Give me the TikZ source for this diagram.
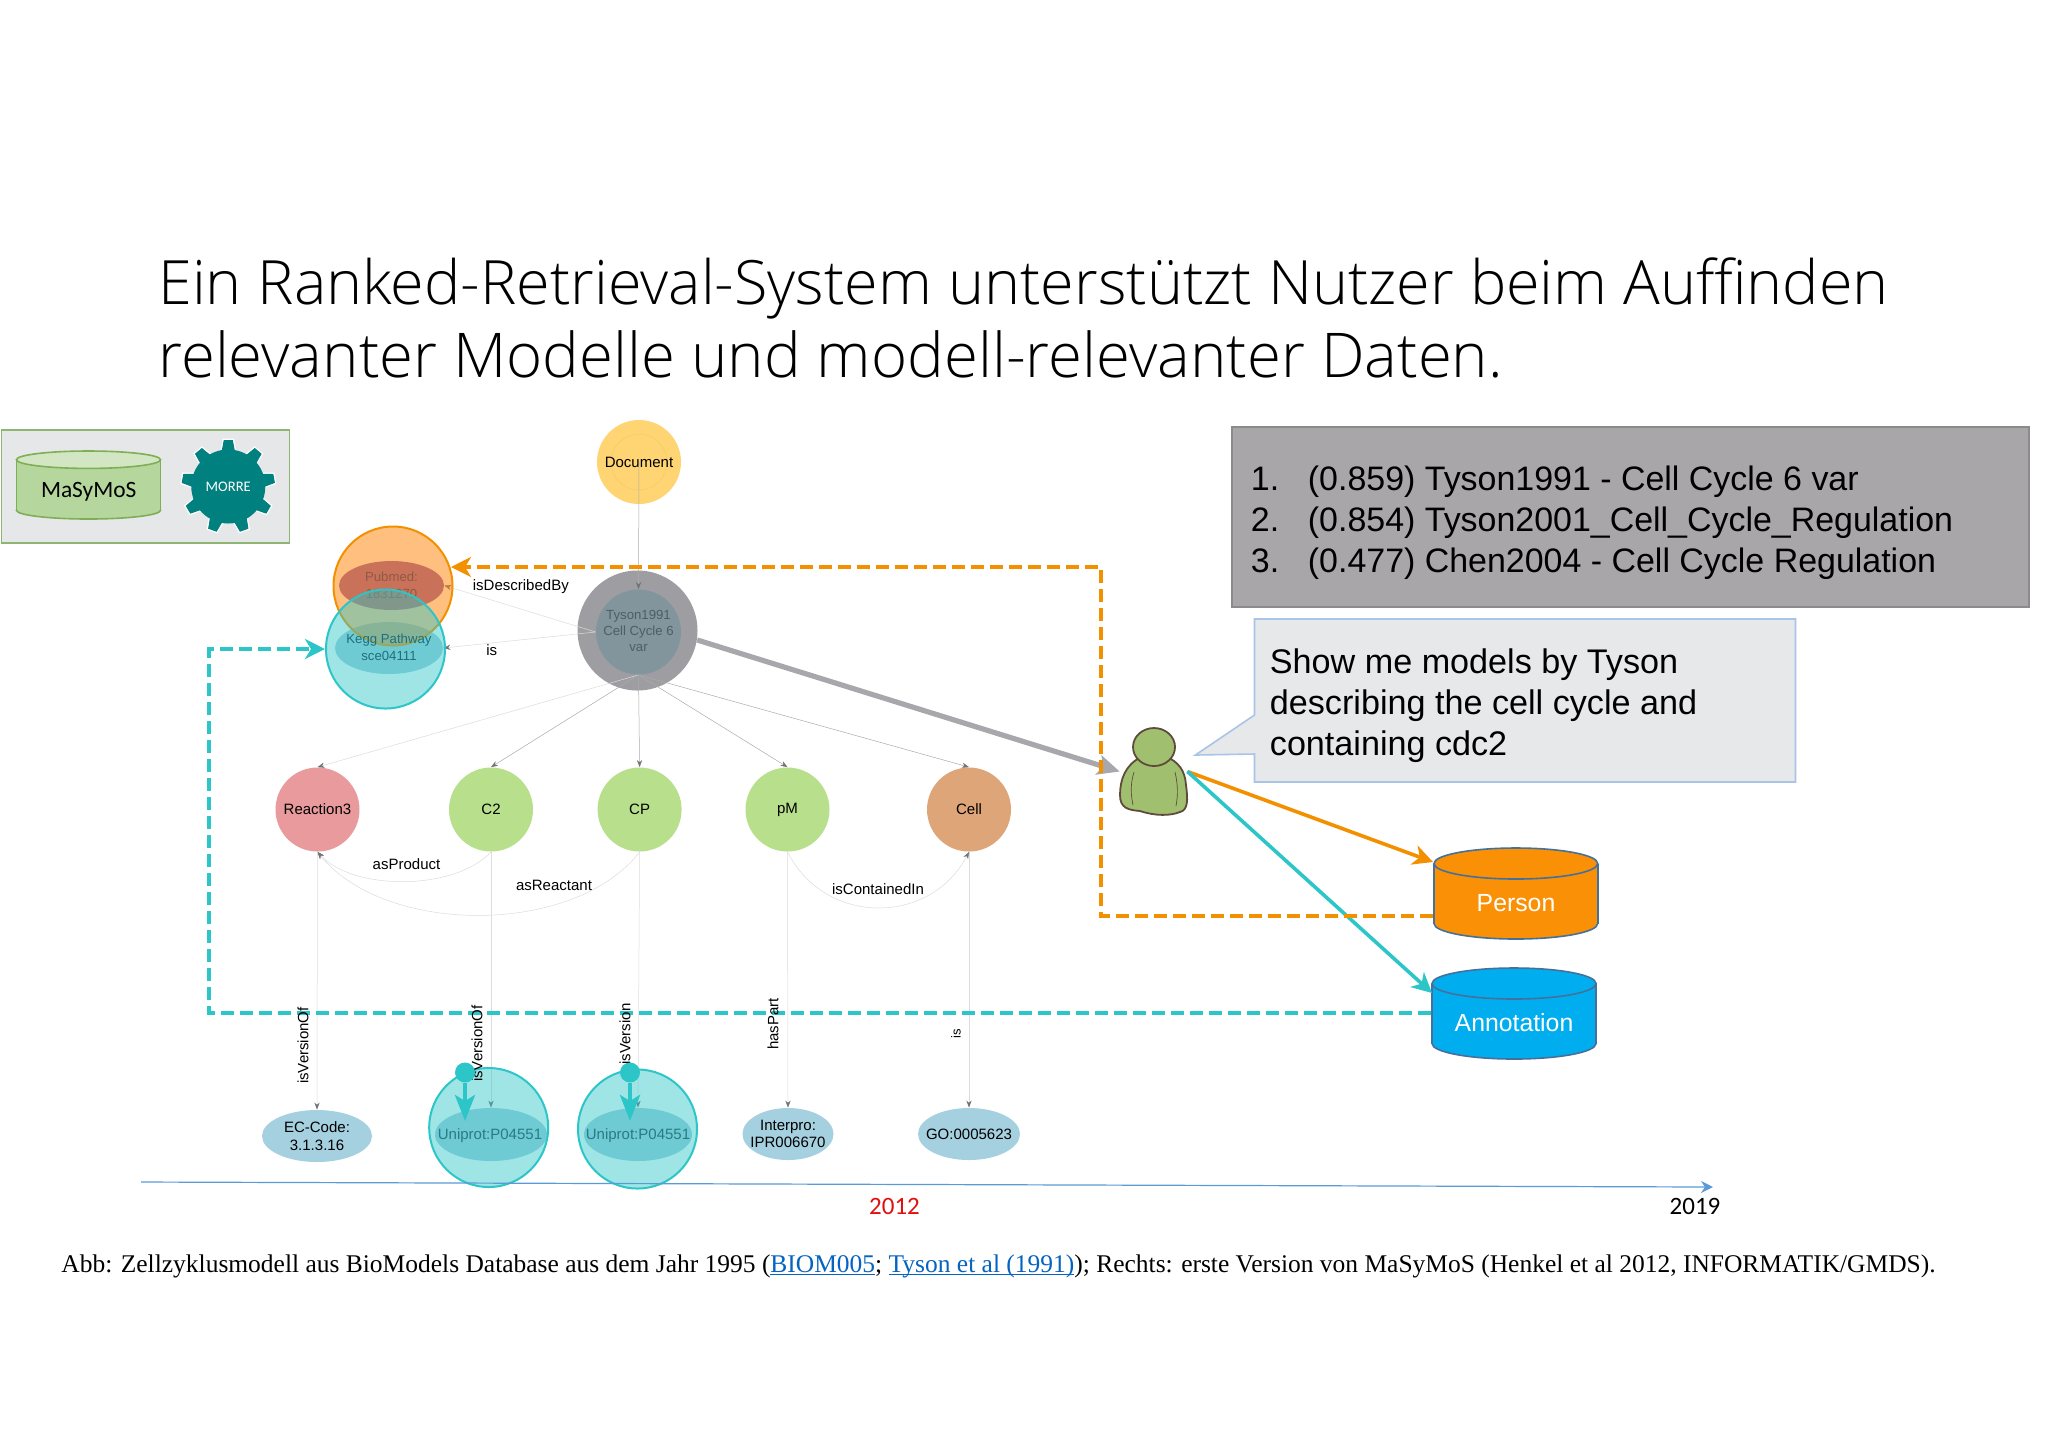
\documentclass[tikz,border=0pt]{standalone}
\usepackage{fontspec}
\setmainfont{Liberation Sans}
\newfontfamily\serfont{Liberation Serif}
\newfontfamily\carl{Carlito}
\newfontfamily\ttlfont{Open Sans}[UprightFont=* Light]
\usetikzlibrary{shapes.geometric,arrows.meta}
\definecolor{orangeL}{HTML}{F39000}
\definecolor{tealL}{HTML}{2DC6C8}
\definecolor{cylLine}{HTML}{44719B}
\definecolor{greyE}{HTML}{ABABAF}
\definecolor{lightE}{HTML}{DCDCDC}
\definecolor{annoBase}{HTML}{A5D0DF}
\definecolor{gearC}{HTML}{00807F}
\definecolor{pubBase}{RGB}{147,101,180}
\definecolor{userF}{RGB}{160,192,112}
\definecolor{userL}{RGB}{94,75,60}
\definecolor{reactF}{RGB}{232,154,156}
\definecolor{greenF}{RGB}{184,223,140}
\definecolor{cellF}{RGB}{222,165,120}
\definecolor{docF}{HTML}{FFD574}
\definecolor{docR}{HTML}{F5C860}
\definecolor{tysonO}{HTML}{9E9EA2}
\definecolor{tysonI}{HTML}{82949C}
\definecolor{tysonT}{HTML}{4D5E64}
\definecolor{pubT}{HTML}{8F5A45}
\definecolor{keggT}{HTML}{1F6F7C}
\definecolor{uniT}{HTML}{2A7A85}
\definecolor{legF}{HTML}{E6E7E8}
\definecolor{legL}{HTML}{8FB573}
\definecolor{masF}{HTML}{B5D79E}
\definecolor{masT}{HTML}{D2E6C4}
\definecolor{masL}{HTML}{7FAF55}
\definecolor{persF}{HTML}{FA9005}
\definecolor{annoF}{HTML}{00AEEF}
\definecolor{resF}{HTML}{A8A6A8}
\definecolor{resL}{HTML}{8C8B8C}
\definecolor{bubF}{HTML}{E7E8E9}
\definecolor{bubL}{HTML}{A9C4E6}
\definecolor{axisC}{HTML}{5B9BD5}
\definecolor{linkC}{HTML}{0563C1}
\definecolor{redY}{HTML}{E01010}
\definecolor{grayA}{HTML}{A8A8AC}
\newcommand{\fsz}[1]{\fontsize{#1}{#1}\selectfont}
\newcommand{\dbcyl}[8]{%
  % x0 x1 ytop ybot ry fill line topfill
  \pgfmathsetmacro{\cylxm}{(#1+#2)/2}%
  \pgfmathsetmacro{\cylrx}{(#2-#1)/4}%
  \pgfmathsetmacro{\cylry}{#5/2}%
  \pgfmathsetmacro{\cylty}{#3+#5}%
  \pgfmathsetmacro{\cylby}{#4-#5}%
  \draw[fill=#6,draw=#7,line width=.8pt] (\cylxm,\cylby) ellipse[x radius=\cylrx pt,y radius=\cylry pt];%
  \fill[#6] (#1,\cylty) rectangle (#2,\cylby);%
  \draw[#7,line width=.8pt] (#1,\cylty) -- (#1,\cylby) (#2,\cylty) -- (#2,\cylby);%
  \draw[fill=#8,draw=#7,line width=.8pt] (\cylxm,\cylty) ellipse[x radius=\cylrx pt,y radius=\cylry pt];%
}
\tikzset{
  x=.5pt,y=-.5pt,
  oval/.style 2 args={ellipse,inner sep=0pt,minimum width=#1pt,minimum height=#2pt,align=center},
  round/.style={circle,inner sep=0pt,minimum size=42pt},
  lab/.style={font=\fsz{7.5},text=black,inner sep=0pt,align=center},
  small/.style={font=\fsz{6.6},inner sep=0pt,align=center},
  rel/.style={draw=greyE,line width=.25pt,-{Stealth[length=3.5pt,width=2.6pt,color=black!55]}},
  relL/.style={draw=lightE,line width=.25pt,-{Stealth[length=3.5pt,width=2.6pt,color=black!55]}},
  tip/.style={-{Stealth[length=10pt,width=10pt,inset=3pt]}},
  dashL/.style={line width=2pt,dash pattern=on 6.5pt off 3pt,tip},
  rotlab/.style={font=\fsz{7.5},rotate=90,inner sep=0pt},
  glow/.style={circle,fill=tealL,fill opacity=.45,draw=tealL,line width=1pt,inner sep=0pt,minimum size=59.5pt},
}
\begin{document}
\begin{tikzpicture}
\useasboundingbox[fill=white] (0,0) rectangle (2048,1448);
% Title
\node[anchor=base west,inner sep=0pt,font=\ttlfont\fsz{30.55}] (title1) at (158,304) {Ein Ranked-Retrieval-System unterstützt Nutzer beim Auffinden};
\node[anchor=base west,inner sep=0pt,font=\ttlfont\fsz{30.85}] (title2) at (158,377) {relevanter Modelle und modell-relevanter Daten.};
% Legend
\draw[fill=legF,draw=legL,line width=.8pt] (1.5,430) rectangle (289.5,543);
\dbcyl{16.5}{160.5}{451}{519}{8.7}{masF}{masL}{masT}
\node[font=\carl\fsz{11.7},inner sep=0pt] (masymos) at (88.7,492) {MaSyMoS};
\begin{scope}[shift={(228.3,486.5)},x=.5pt,y=.5pt]
  \foreach \a in {90,130,...,410}
    \draw[rotate=\a,fill=gearC,draw=white,line width=.8pt] (30,-8) -- (47,-5) -- (47,5) -- (30,8) -- cycle;
  \foreach \a in {90,130,...,410}
    \fill[rotate=\a,gearC] (28,-8) -- (46.5,-4.5) -- (46.5,4.5) -- (28,8) -- cycle;
\end{scope}
\node[circle,fill=gearC,inner sep=0pt,minimum size=37pt,text=white,font=\carl\fsz{7.3}] (morre) at (228.3,486.5) {MORRE};
% Base nodes
\node[round,fill=docF] (document) at (639,462) {};
\draw[docR,line width=.2pt] (639,462) circle[radius=14pt];
\node[lab] (doclabel) at (639,462) {Document};
\node[circle,fill=tysonO,inner sep=0pt,minimum size=60pt] (tyson) at (637.5,630.5) {};
\node[circle,fill=tysonI,inner sep=0pt,minimum size=42.5pt] (tysoninner) at (638.5,632) {};
\node[oval={52.5}{24.5},fill=pubBase] (pubinner) at (391.5,585.5) {};
\node[oval={54}{26},fill=annoBase] (kegginner) at (389,648) {};
\node[small,text=tysonT] (tysonlabel) at (638.5,631) {Tyson1991\\[1.6pt]Cell Cycle 6\\[1.6pt]var};
\node[round,lab,fill=reactF] (react) at (317.5,809.5) {Reaction3};
\node[round,lab,fill=greenF] (c2) at (491,809.5) {C2};
\node[round,lab,fill=greenF] (cp) at (639.6,809.5) {CP};
\node[round,lab,fill=greenF] (pm) at (787.5,809.5) {pM};
\node[round,lab,fill=cellF] (cell) at (969,809.5) {Cell};
\node[oval={55}{26},fill=annoBase] (ec) at (317,1136) {};
\node[lab] (eclabel) at (317,1136) {EC-Code:\\[1.2pt]3.1.3.16};
\node[oval={56}{26.5},fill=annoBase] (uni1) at (491,1134.5) {};
\node[oval={54}{26.5},fill=annoBase] (uni2) at (638,1134.5) {};
\node[oval={45.5}{26},fill=annoBase] (interpro) at (788,1134) {};
\node[lab] (interprolabel) at (788,1134) {Interpro:\\[1.2pt]IPR006670};
\node[oval={51}{26},fill=annoBase] (go) at (969,1134) {};
\node[lab] (golabel) at (969,1134) {GO:0005623};
% Thin relations
\draw[rel] (document.center) -- (tysoninner.north);
\draw[relL] (tysoninner.west) -- (pubinner.east);
\draw[relL] (tysoninner.west) -- (kegginner.east);
\draw[relL] (tysoninner.south) -- (react.north);
\draw[rel] (tysoninner.south) -- (c2.north);
\draw[rel] (tysoninner.south) -- (cp.north);
\draw[rel] (tysoninner.south) -- (pm.north);
\draw[rel] (tysoninner.south) -- (cell.north);
\draw[relL] (c2.south) .. controls (455,891) and (353,891) .. (react.south);
\draw[relL] (cp.south) .. controls (575,936) and (385,936) .. (react.south);
\draw[relL] (pm.south) .. controls (825,926) and (930,926) .. (cell.south);
\draw[relL] (react.south) -- (ec.north);
\draw[relL] (c2.south) -- (uni1.north);
\draw[relL] (cp.south) -- (uni2.north);
\draw[relL] (pm.south) -- (interpro.north);
\draw[relL] (cell.south) -- (go.north);
% Relation labels
\node[lab,anchor=west] (ldesc) at (472.5,586.5) {isDescribedBy};
\node[lab,anchor=west] (lis) at (486,650) {is};
\node[lab] (lprod) at (406.5,864) {asProduct};
\node[lab] (lreact) at (554,885) {asReactant};
\node[lab] (lcont) at (878,889) {isContainedIn};
% User
\path[fill=userF,draw=userL,line width=.9pt]
  (1141,757) .. controls (1125,765) and (1120,780) .. (1120,795)
  .. controls (1120,808) and (1128,810) .. (1140,811)
  .. controls (1155,816) and (1170,816) .. (1180,812)
  .. controls (1188,810) and (1188,800) .. (1186,785)
  .. controls (1185,770) and (1178,762) .. (1167,757) -- cycle;
\draw[userL,line width=.35pt] (1134,772) .. controls (1130,785) and (1131,795) .. (1133,805) (1175,772) .. controls (1178,785) and (1178,795) .. (1176,806);
\node[ellipse,inner sep=0pt,minimum width=21pt,minimum height=19pt,fill=userF,draw=userL,line width=.9pt] (head) at (1154,747) {};
\node[inner sep=0pt,minimum width=33.5pt,minimum height=43.5pt] (user) at (1153.5,771.5) {};
% Cylinders
\dbcyl{1434}{1597.7}{848}{939}{15.5}{persF}{cylLine}{persF}
\dbcyl{1432}{1596}{968}{1059}{15.5}{annoF}{cylLine}{annoF}
\node[inner sep=0pt,text=white,font=\fsz{12.4}] (person) at (1516,903) {Person};
\node[inner sep=0pt,text=white,font=\fsz{12.4}] (annotation) at (1514,1023) {Annotation};
\coordinate (personin) at (1433,862);
\coordinate (annoin) at (1432,993);
\coordinate (persout) at (1433,916);
\coordinate (annoout) at (1431,1013);
% Gray arrow and coloured arrows
\draw[grayA,line width=2.6pt,-{Stealth[length=11pt,width=10pt,inset=2.5pt]}] (tyson.-9) -- (user.west);
\draw[orangeL,line width=1.8pt,tip] (user.east) -- (personin);
\draw[tealL,line width=1.8pt,tip] (user.east) -- (annoin);
% Highlights
\node[glow,fill=orange,fill opacity=.5,draw=orangeL] (pubmed) at (393,586) {};
\node[small,text=pubT] (publabel) at (391.5,585.5) {Pubmed:\\[1.9pt]1831270};
\node[glow] (kegg) at (385.5,649) {};
\node[small,text=keggT] (kegglabel) at (389,647) {Kegg Pathway\\[1.9pt]sce04111};
\node[glow] (uniout1) at (488.7,1127.5) {};
\node[glow] (uniout2) at (637.5,1129) {};
\node[lab,text=uniT] (uni1label) at (490,1135.5) {Uniprot:P04551};
\node[lab,text=uniT] (uni2label) at (638,1135.5) {Uniprot:P04551};
% Dashed
\coordinate (pubin) at (451,567);
\draw[orangeL,dashL] (persout) -- (1101,916) -- (1101,567) -- (pubin);
\draw[tealL,dashL] (annoout) -- (209.4,1013) -- (209.4,649) -- (kegg.west);
% Rotated labels
\node[rotlab] (rv1) at (303,1045.5) {isVersionOf};
\node[rotlab] (rv2) at (477,1043.5) {isVersionOf};
\node[rotlab] (rv3) at (625,1034) {isVersion};
\node[rotlab] (rv4) at (773,1024) {hasPart};
\node[rotlab,font=\fsz{6.5}] (rv5) at (956,1034) {is};
% Teal pins
\node[circle,fill=tealL,inner sep=0pt,minimum size=10pt] (pin1) at (465,1072.5) {};
\node[circle,fill=tealL,inner sep=0pt,minimum size=10pt] (pin2) at (630,1072.5) {};
\coordinate (pin1t) at (465,1121);
\coordinate (pin2t) at (630,1121);
\draw[tealL,line width=2.2pt,-{Stealth[length=13pt,width=10pt,inset=3pt]}] (pin1) -- (pin1t);
\draw[tealL,line width=2.2pt,-{Stealth[length=13pt,width=10pt,inset=3pt]}] (pin2) -- (pin2t);
% Results box
\draw[fill=resF,draw=resL,line width=.7pt] (1232,427) rectangle (2029,607);
\node[anchor=west,inner sep=0pt,align=left,font=\fontsize{16.97}{20.4}\selectfont] (results) at (1250.5,522.5) {%
\makebox[28.5pt][l]{1.}(0.859) Tyson1991 - Cell Cycle 6 var\\
\makebox[28.5pt][l]{2.}(0.854) Tyson2001\_Cell\_Cycle\_Regulation\\
\makebox[28.5pt][l]{3.}(0.477) Chen2004 - Cell Cycle Regulation};
% Speech box
\draw[fill=bubF,draw=bubL,line width=.8pt,line join=miter]
  (1254.5,619) -- (1795.5,619) -- (1795.5,782) -- (1254.5,782) -- (1254.5,754) -- (1195.4,755) -- (1254.5,715) -- cycle;
\node[anchor=west,inner sep=0pt,align=left,font=\fontsize{17.08}{20.5}\selectfont] (query) at (1269.5,706) {Show me models by Tyson\\describing the cell cycle and\\containing cdc2};
% Timeline
\coordinate (axisa) at (141,1182);
\coordinate (axisb) at (1713,1187);
\draw[axisC,line width=.6pt,-{Stealth[length=6pt,width=6pt]}] (axisa) -- (axisb);
\node[font=\carl\fsz{12.5},text=redY,inner sep=0pt] (y2012) at (894.5,1206) {2012};
\node[font=\carl\fsz{12.5},inner sep=0pt] (y2019) at (1695,1206) {2019};
% Caption
\node[anchor=base west,inner sep=0pt,font=\serfont\fsz{12.74}] (caption) at (61,1272) {Abb: Zellzyklusmodell aus BioModels Database aus dem Jahr 1995 (\textcolor{linkC}{\underline{\smash{BIOM005}}}; \textcolor{linkC}{\underline{\smash{Tyson et al (1991)}}}); Rechts: erste Version von MaSyMoS (Henkel et al 2012, INFORMATIK/GMDS).};
\end{tikzpicture}
\end{document}
